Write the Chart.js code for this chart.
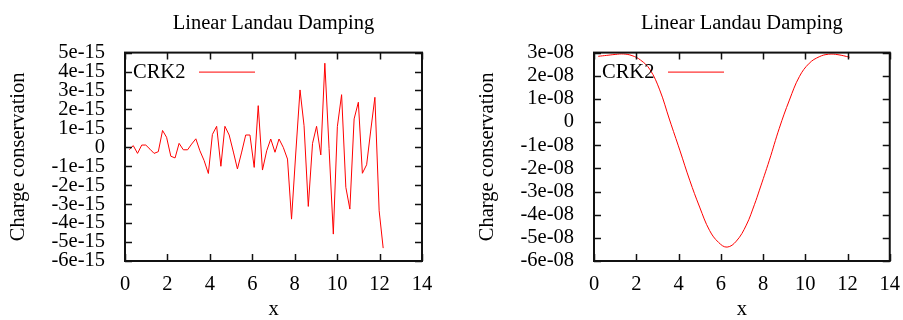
<!DOCTYPE html>
<html>
<head>
<meta charset="utf-8">
<script src="https://cdn.jsdelivr.net/npm/chart.js@4.4.0/dist/chart.umd.min.js"></script>
<style>
  body { margin: 0; background: #fff; }
  #wrap { position: relative; width: 903px; height: 320px; }
  canvas { position: absolute; top: 0; }
</style>
</head>
<body>
<div id="wrap">
  <canvas id="chartLeft" width="450" height="320" style="left:0px"></canvas>
  <canvas id="chartRight" width="434" height="320" style="left:469px"></canvas>
</div>
<script>
// data
const xTicks = [0, 2, 4, 6, 8, 10, 12, 14];

// left panel: x and charge conservation (units of 1e-15)
const xLeft = [0.2, 0.39, 0.59, 0.79, 0.98, 1.18, 1.37, 1.57, 1.77, 1.96,
  2.16, 2.36, 2.55, 2.75, 2.95, 3.14, 3.34, 3.53, 3.73, 3.93,
  4.12, 4.32, 4.52, 4.71, 4.91, 5.11, 5.3, 5.5, 5.69, 5.89,
  6.09, 6.28, 6.48, 6.68, 6.87, 7.07, 7.26, 7.46, 7.66, 7.85,
  8.05, 8.25, 8.44, 8.64, 8.84, 9.03, 9.23, 9.42, 9.62, 9.82,
  10.01, 10.21, 10.41, 10.6, 10.8, 11.0, 11.19, 11.39, 11.58, 11.78,
  11.98, 12.17];
const chargeLeft = [-0.12, 0.09, -0.32, 0.12, 0.12, -0.1, -0.32, -0.23, 0.89, 0.53,
  -0.47, -0.56, 0.21, -0.13, -0.13, 0.17, 0.45, -0.18, -0.7, -1.38,
  0.68, 1.11, -1.0, 1.11, 0.65, -0.25, -1.14, -0.25, 0.65, 0.65,
  -1.06, 2.2, -1.2, -0.18, 0.44, -0.26, 0.44, 0.0, -0.62, -3.79,
  -0.3, 3.03, 1.14, -3.12, 0.21, 1.11, -0.4, 4.44, -0.07, -4.58,
  1.09, 2.78, -2.11, -3.26, 1.5, 2.38, -1.37, -0.92, 0.86, 2.64,
  -3.35, -5.32];
const yTicksLeft = [-6, -5, -4, -3, -2, -1, 0, 1, 2, 3, 4, 5];
const yLabelsLeft = ['-6e-15', '-5e-15', '-4e-15', '-3e-15', '-2e-15', '-1e-15', '0',
  '1e-15', '2e-15', '3e-15', '4e-15', '5e-15'];

// right panel: x and charge conservation (units of 1e-8)
const xRight = [0.2, 0.6, 1.0, 1.4, 1.8, 2.2, 2.64, 3.11, 3.58, 4.06,
  4.53, 5.0, 5.47, 5.9, 6.3, 6.74, 7.21, 7.6, 7.83, 8.3,
  8.77, 9.25, 9.72, 10.19, 10.66, 11.1, 11.55, 12.1];
const chargeRight = [2.84, 2.88, 2.92, 2.94, 2.87, 2.68, 2.28, 1.39, 0.09, -1.21,
  -2.51, -3.67, -4.68, -5.2, -5.4, -5.14, -4.45, -3.55, -2.94, -1.65,
  -0.27, 0.95, 1.96, 2.54, 2.82, 2.93, 2.91, 2.8];
const yTicksRight = [-6, -5, -4, -3, -2, -1, 0, 1, 2, 3];
const yLabelsRight = ['-6e-08', '-5e-08', '-4e-08', '-3e-08', '-2e-08', '-1e-08', '0',
  '1e-08', '2e-08', '3e-08'];

const seriesName = 'CRK2';
const titleText = 'Linear Landau Damping';
const serif = "'Liberation Serif', 'Times New Roman', serif";
const fontSize = 20.5;

// gnuplot style border, inward ticks and legend inside the plot
const gnuplotFrame = {
  id: 'gnuplotFrame',
  afterDraw(chart) {
    const ctx = chart.ctx;
    const a = chart.chartArea;
    const xs = chart.scales.x, ys = chart.scales.y;
    ctx.save();
    ctx.strokeStyle = '#111';
    ctx.lineWidth = 1.5;
    ctx.beginPath();
    xs.ticks.forEach(t => {
      const px = Math.round(xs.getPixelForValue(t.value)) + 0.5;
      ctx.moveTo(px, a.bottom); ctx.lineTo(px, a.bottom - 7);
      ctx.moveTo(px, a.top); ctx.lineTo(px, a.top + 7);
    });
    ys.ticks.forEach(t => {
      const py = Math.round(ys.getPixelForValue(t.value)) + 0.5;
      ctx.moveTo(a.left, py); ctx.lineTo(a.left + 7, py);
      ctx.moveTo(a.right, py); ctx.lineTo(a.right - 7, py);
    });
    ctx.stroke();
    ctx.lineWidth = 2;
    ctx.strokeRect(a.left, a.top, a.right - a.left, a.bottom - a.top);

    // key
    const ds = chart.data.datasets[0];
    ctx.fillStyle = '#000';
    ctx.font = fontSize + 'px ' + serif;
    ctx.textBaseline = 'middle';
    ctx.textAlign = 'left';
    ctx.fillText(ds.label, a.left + 8, a.top + 20);
    ctx.strokeStyle = ds.borderColor;
    ctx.lineWidth = 1;
    ctx.beginPath();
    ctx.moveTo(a.left + 74, a.top + 19.5);
    ctx.lineTo(a.left + 130, a.top + 19.5);
    ctx.stroke();
    ctx.restore();
  }
};

function makeChart(id, xs, ys, scaleY, yTicks, yLabels, padRight, smooth) {
  const points = xs.map((x, i) => ({ x: x, y: ys[i] * scaleY }));
  return new Chart(document.getElementById(id), {
    type: 'line',
    data: {
      datasets: [{
        label: seriesName,
        data: points,
        borderColor: 'rgb(255,0,0)',
        borderWidth: 1,
        pointRadius: 0,
        fill: false,
        tension: smooth ? 0.4 : 0
      }]
    },
    options: {
      responsive: false,
      animation: false,
      devicePixelRatio: 1,
      layout: { padding: { left: 0, right: padRight, top: 0, bottom: 0 } },
      plugins: {
        legend: { display: false },
        tooltip: { enabled: false },
        title: {
          display: true,
          text: titleText,
          fullSize: false,
          color: '#000',
          font: { family: serif, size: fontSize, weight: 'normal' },
          padding: { top: 11, bottom: 17 }
        }
      },
      scales: {
        x: {
          type: 'linear',
          min: 0,
          max: 14,
          afterBuildTicks: s => { s.ticks = xTicks.map(v => ({ value: v })); },
          afterFit: s => { s.height = 59; },
          grid: { display: false },
          border: { display: false },
          ticks: {
            color: '#000',
            padding: 3,
            autoSkip: false,
            maxRotation: 0,
            font: { family: serif, size: fontSize },
            callback: v => String(v)
          },
          title: {
            display: true,
            text: 'x',
            color: '#000',
            font: { family: serif, size: fontSize },
            padding: { top: 0, bottom: -2 }
          }
        },
        y: {
          type: 'linear',
          min: yTicks[0] * scaleY,
          max: yTicks[yTicks.length - 1] * scaleY,
          afterBuildTicks: s => { s.ticks = yTicks.map(v => ({ value: v * scaleY })); },
          afterFit: s => { s.width = 125; },
          grid: { display: false },
          border: { display: false },
          ticks: {
            color: '#000',
            padding: 12,
            autoSkip: false,
            font: { family: serif, size: fontSize },
            callback: (v, i) => yLabels[i]
          },
          title: {
            display: true,
            text: 'Charge conservation',
            color: '#000',
            font: { family: serif, size: fontSize },
            padding: { top: 6, bottom: 0 }
          }
        }
      }
    },
    plugins: [gnuplotFrame]
  });
}

makeChart('chartLeft', xLeft, chargeLeft, 1e-15, yTicksLeft, yLabelsLeft, 28, false);
makeChart('chartRight', xRight, chargeRight, 1e-8, yTicksRight, yLabelsRight, 12, true);
</script>
</body>
</html>
